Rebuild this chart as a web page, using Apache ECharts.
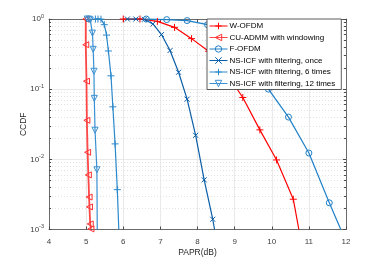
<!DOCTYPE html>
<html><head><meta charset="utf-8">
<script src="https://cdn.jsdelivr.net/npm/echarts@6/dist/echarts.min.js"></script>
<style>html,body{margin:0;padding:0;background:#fff}#c{width:381px;height:262px}</style>
</head><body><div id="c"></div>
<script>
// ---- data ----
const seriesNames = ['W-OFDM','CU-ADMM with windowing','F-OFDM','NS-ICF with filtering, once','NS-ICF with filtering, 6 times','NS-ICF with filtering, 12 times'];
const xTicks = [4,5,6,7,8,9,10,11,12];
const yTicks = [0.001,0.01,0.1,1];

const wofdmX = [6.0, 6.45, 6.92, 7.38, 7.84, 8.3, 8.76, 9.22, 9.68, 10.13, 10.58, 10.73];
const wofdmY = [1, 1, 0.925, 0.76, 0.525, 0.347, 0.174, 0.076, 0.0263, 0.0098, 0.0027, 0.001];
const wofdmM = [1,1,1,1,1,1,1,1,1,1,1,0];

const cuX = [4.99, 4.99, 5.01, 5.02, 5.04, 5.06, 5.08, 5.09, 5.11, 5.13];
const cuY = [1, 0.43, 0.13, 0.036, 0.0126, 0.006, 0.0029, 0.0021, 0.0012, 0.00102];
const cuM = [1,1,1,1,1,1,1,1,1,1];

const fofdmX = [6.62, 7.17, 7.72, 8.27, 8.82, 9.36, 9.91, 10.45, 11.0, 11.55, 11.86];
const fofdmY = [0.999, 0.98, 0.95, 0.83, 0.5, 0.24, 0.1, 0.04, 0.0123, 0.0024, 0.001];
const fofdmM = [1,1,1,1,1,1,1,1,1,1,0];

const onceX = [6.11, 6.34, 6.57, 6.80, 7.03, 7.26, 7.49, 7.72, 7.95, 8.18, 8.41, 8.46];
const onceY = [1, 1, 0.99, 0.85, 0.6, 0.355, 0.174, 0.072, 0.022, 0.0051, 0.0014, 0.001];
const onceM = [1,1,1,1,1,1,1,1,1,1,1,0];

const sixX = [5.25, 5.32, 5.40, 5.49, 5.55, 5.60, 5.67, 5.72, 5.78, 5.84, 5.88];
const sixY = [1, 1, 0.995, 0.83, 0.59, 0.35, 0.155, 0.056, 0.0166, 0.0037, 0.001];
const sixM = [1,1,1,1,1,1,1,1,1,1,0];

const twelveX = [5.03, 5.08, 5.11, 5.17, 5.19, 5.21, 5.22, 5.24, 5.29, 5.30];
const twelveY = [1, 0.995, 0.97, 0.63, 0.37, 0.18, 0.074, 0.026, 0.0071, 0.001];
const twelveM = [1,1,1,1,1,1,1,1,1,0];

// ---- styling ----
const RED = '#ff0000', RED2 = '#ff3030';
const BLUE_F = '#1f80c8', BLUE_1 = '#0a5ea8', BLUE_6 = '#2c89cc', BLUE_12 = '#3a90d2';
const PLUS = 'path://M0,5 L10,5 M5,0 L5,10';
const CROSS = 'path://M1,1 L9,9 M9,1 L1,9';
const FONT = 'Liberation Sans';

function build(xs, ys, ms) {
  return xs.map((x, i) => ms[i] ? [x, ys[i]] : {value: [x, ys[i]], symbol: 'none'});
}
function mkSeries(name, xs, ys, ms, color, symbol, size, rot, lw, opts) {
  return Object.assign({
    name: name, type: 'line', data: build(xs, ys, ms),
    symbol: symbol, symbolSize: size, symbolRotate: rot || 0,
    showAllSymbol: true, clip: false, animation: false,
    lineStyle: {color: color, width: lw},
    itemStyle: {color: 'rgba(255,255,255,0)', borderColor: color, borderWidth: 1},
    emphasis: {disabled: true}, z: 3
  }, opts || {});
}

const series = [
  mkSeries(seriesNames[0], wofdmX, wofdmY, wofdmM, RED, PLUS, 7, 0, 1.2),
  mkSeries(seriesNames[1], cuX, cuY, cuM, RED2, 'triangle', 6, 90, 1.6, {lineStyle:{color:'rgba(255,40,40,0.85)', width:1.8}}),
  mkSeries(seriesNames[2], fofdmX, fofdmY, fofdmM, BLUE_F, 'circle', 6, 0, 1.2),
  mkSeries(seriesNames[3], onceX, onceY, onceM, BLUE_1, CROSS, 5, 0, 1.2),
  mkSeries(seriesNames[4], sixX, sixY, sixM, BLUE_6, PLUS, 7, 0, 1.2),
  mkSeries(seriesNames[5], twelveX, twelveY, twelveM, BLUE_12, 'triangle', 6, 180, 1.2)
];

const axisLineCol = '#4a4a4a';
const labelStyle = {fontFamily: FONT, fontSize: 8, color: '#404040'};

const chart = echarts.init(document.getElementById('c'), null, {renderer: 'canvas'});
chart.setOption({
  animation: false,
  backgroundColor: '#fff',
  grid: {left: 49, top: 19, right: 35, bottom: 29, containLabel: false},
  legend: {
    data: seriesNames, orient: 'vertical', left: 207, top: 19,
    itemWidth: 18, itemHeight: 8, itemGap: 3.5, padding: [3, 6, 2, 2],
    backgroundColor: '#fff', borderColor: '#333', borderWidth: 0.8, borderRadius: 0,
    lineStyle: {width: 1},
    itemStyle: {borderWidth: 1},
    textStyle: {fontFamily: FONT, fontSize: 8, color: '#000', padding: [0,0,0,-3]},
    selectedMode: false, z: 10
  },
  xAxis: [{
    type: 'value', min: xTicks[0], max: xTicks[xTicks.length-1], interval: 1,
    name: 'PAPR(dB)', nameLocation: 'middle', nameGap: 18.5, nameMoveOverlap: false,
    nameTextStyle: {fontFamily: FONT, fontSize: 8.5, color: '#262626', verticalAlign: 'top'},
    axisLine: {show: true, lineStyle: {color: axisLineCol, width: 0.8}},
    axisTick: {show: true, inside: true, length: 3, lineStyle: {color: axisLineCol}},
    axisLabel: Object.assign({margin: 8.5}, labelStyle),
    splitLine: {show: true, lineStyle: {color: '#e3e3e3', width: 0.8}}
  }, {
    type: 'value', min: xTicks[0], max: xTicks[xTicks.length-1], interval: 1, position: 'top',
    axisLine: {show: true, lineStyle: {color: axisLineCol, width: 0.8}},
    axisTick: {show: true, inside: true, length: 3, lineStyle: {color: axisLineCol}},
    axisLabel: {show: false}, splitLine: {show: false}
  }],
  yAxis: [{
    type: 'log', logBase: 10, min: yTicks[0], max: yTicks[yTicks.length-1],
    name: 'CCDF', nameLocation: 'middle', nameGap: 20.5, nameRotate: 90, nameMoveOverlap: false,
    nameTextStyle: {fontFamily: FONT, fontSize: 8.5, color: '#262626'},
    axisLine: {show: true, lineStyle: {color: axisLineCol, width: 0.8}},
    axisTick: {show: true, inside: true, length: 3, lineStyle: {color: axisLineCol}},
    minorTick: {show: true, splitNumber: 9, length: 2, lineStyle: {color: axisLineCol}},
    axisLabel: {
      margin: 5,
      formatter: function (v) { const e = Math.round(Math.log10(v)); return '{b|10}{s|' + e + '}'; },
      rich: {
        b: {fontFamily: FONT, fontSize: 8, color: '#404040'},
        s: {fontFamily: FONT, fontSize: 5.5, color: '#404040', padding: [0, 0, 6, 0]}
      }
    },
    splitLine: {show: true, lineStyle: {color: '#e3e3e3', width: 0.8}},
    minorSplitLine: {show: true, lineStyle: {color: '#d0d0d0', width: 0.6, type: [1, 2]}}
  }, {
    type: 'log', logBase: 10, min: yTicks[0], max: yTicks[yTicks.length-1], position: 'right',
    axisLine: {show: true, lineStyle: {color: axisLineCol, width: 0.8}},
    axisTick: {show: true, inside: true, length: 3, lineStyle: {color: axisLineCol}},
    minorTick: {show: true, splitNumber: 9, length: 2, lineStyle: {color: axisLineCol}},
    axisLabel: {show: false}, splitLine: {show: false}
  }],
  series: series
});
</script>
</body></html>
